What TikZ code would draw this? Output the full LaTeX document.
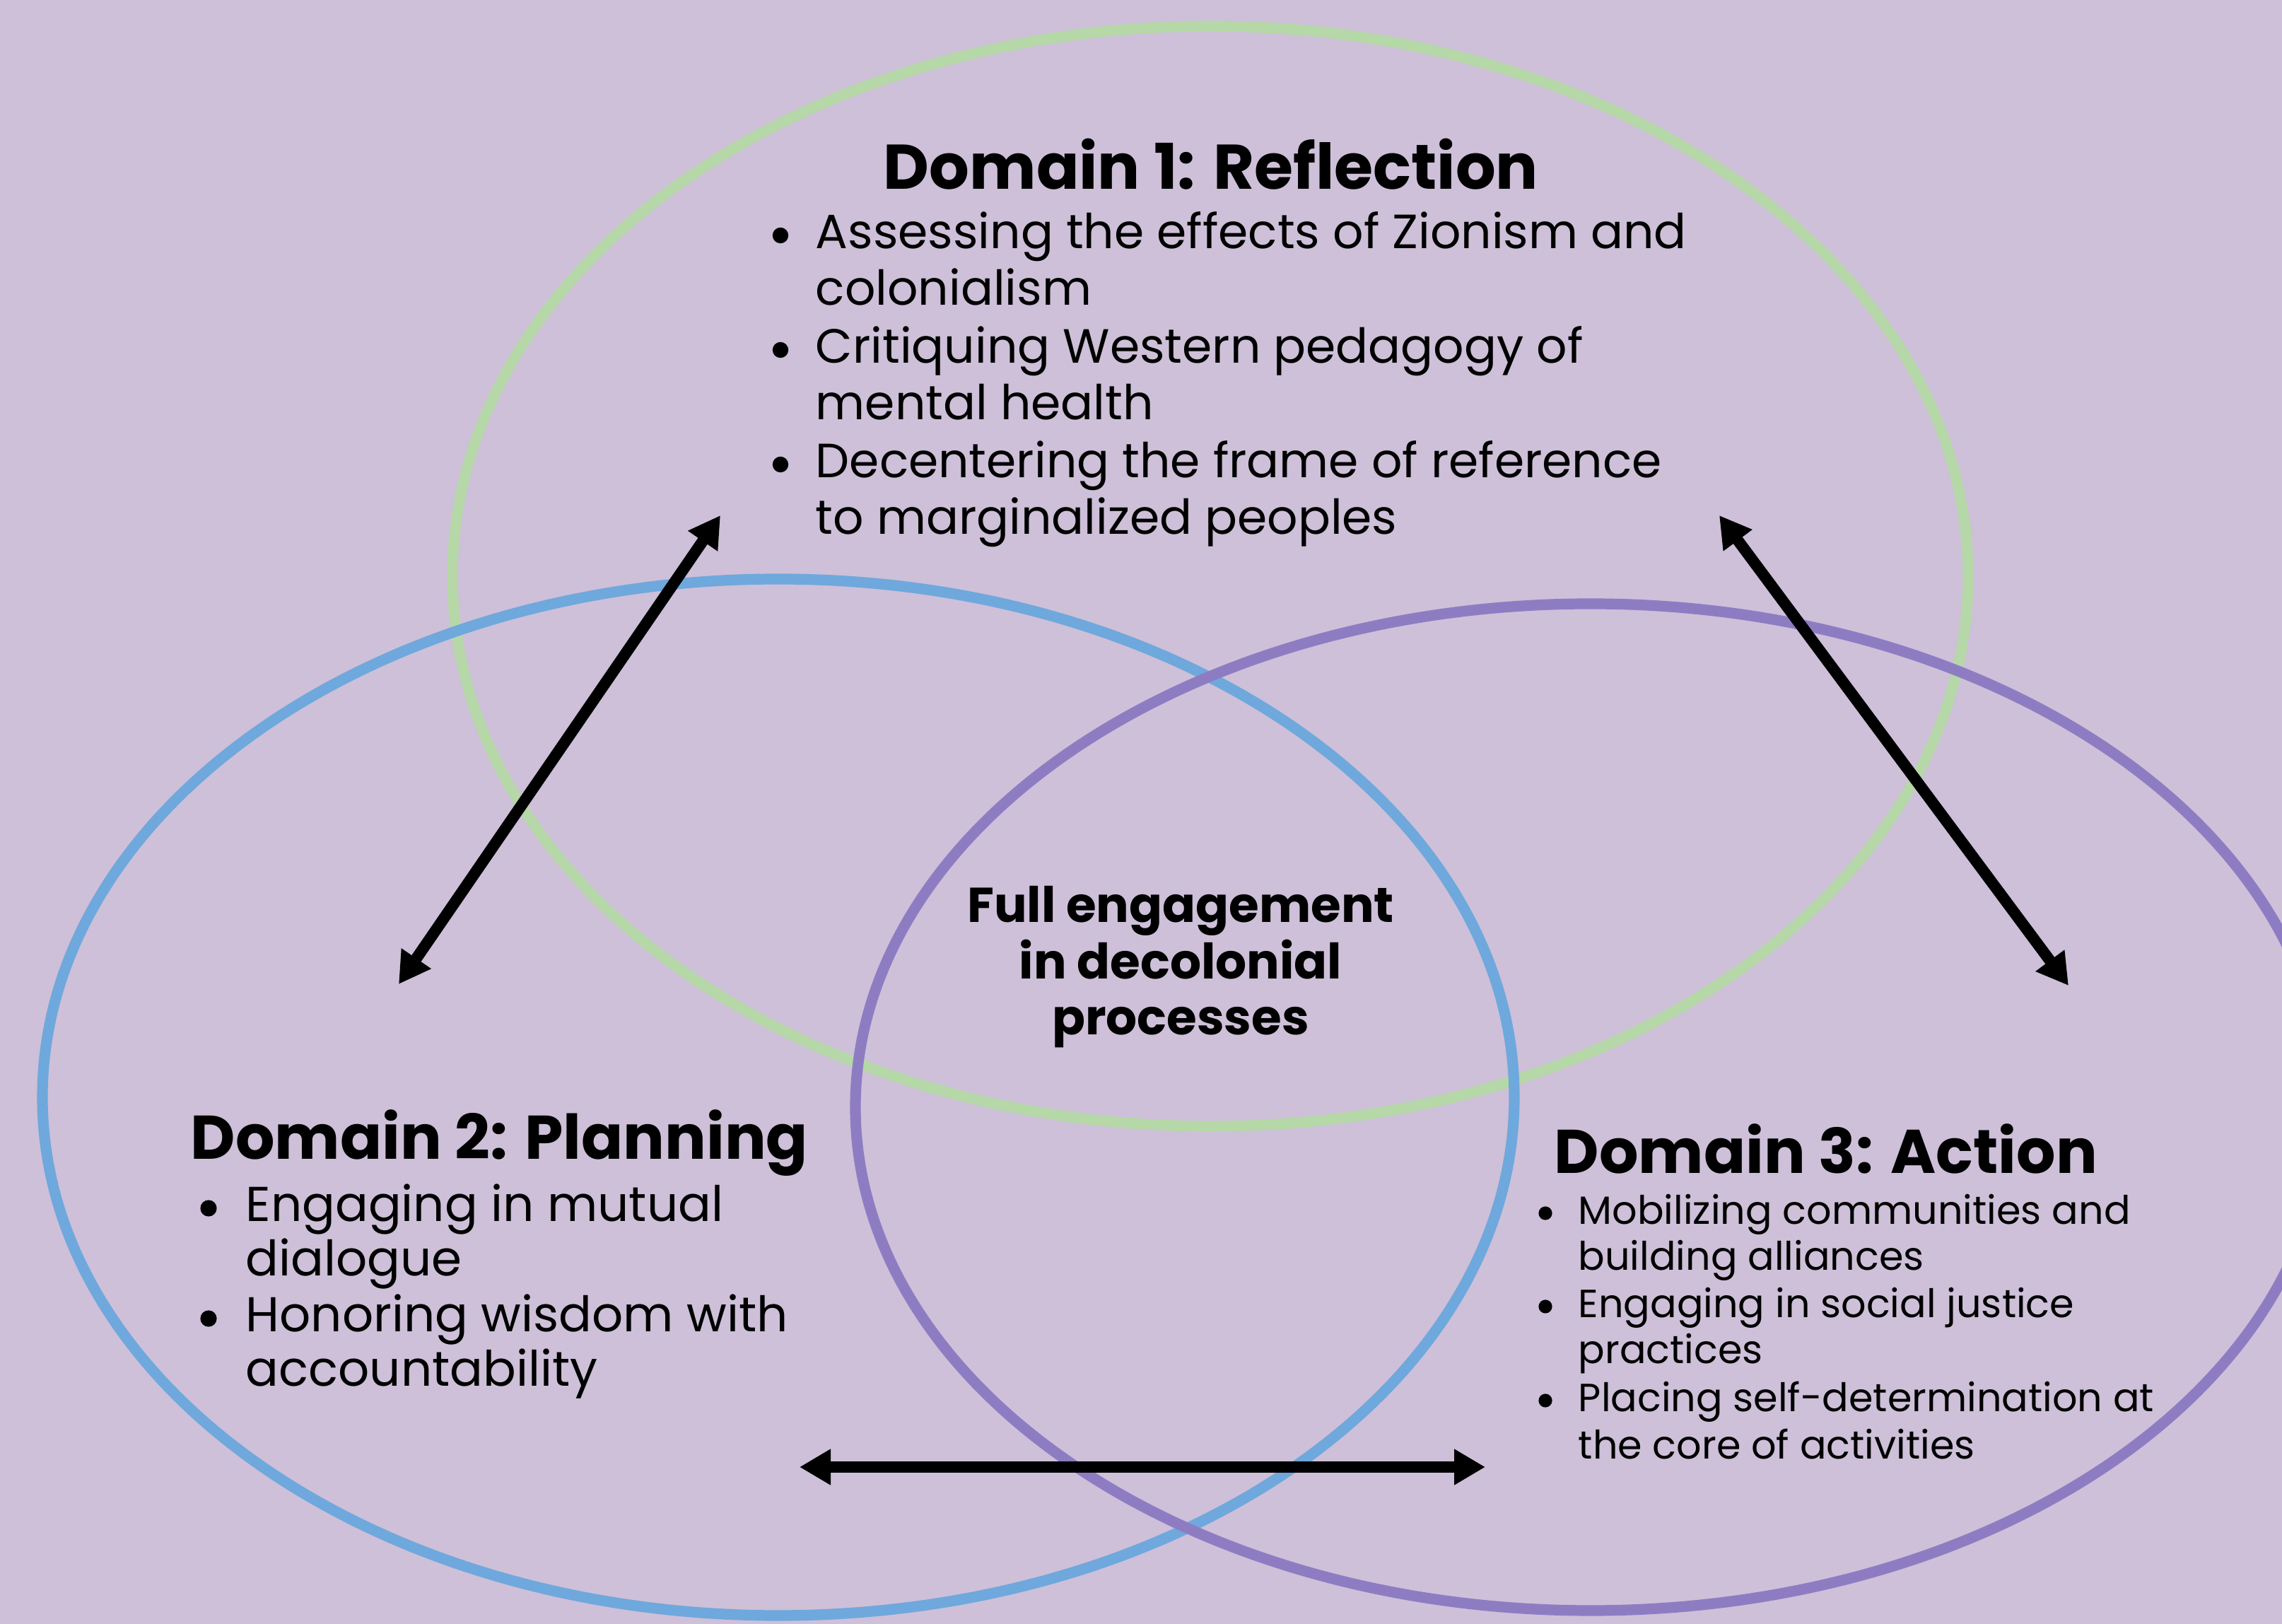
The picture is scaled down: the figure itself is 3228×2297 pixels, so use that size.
\documentclass[tikz,border=0pt]{standalone}
\usepackage{fontspec}
\setmainfont{Poppins}
\usetikzlibrary{arrows.meta}
\definecolor{bgc}{RGB}{205,192,216}
\definecolor{grc}{HTML}{B6D7A8}
\definecolor{blc}{HTML}{6FA8DC}
\definecolor{puc}{HTML}{8E7CC3}
\begin{document}
\begin{tikzpicture}[x=0.25pt,y=-0.25pt,
  ring/.style={line width=3.8pt},
  dbl/.style={line width=4pt,{Triangle[length=11pt,width=12pt]}-{Triangle[length=11pt,width=12pt]}},
  ttl/.style={inner sep=0,font=\bfseries\fontsize{21.8}{26}\selectfont},
  bodyA/.style={anchor=base west,inner sep=0,font=\fontsize{17}{20}\selectfont},
  bodyB/.style={anchor=base west,inner sep=0,font=\fontsize{17.3}{20}\selectfont},
  bodyC/.style={anchor=base west,inner sep=0,font=\fontsize{13.9}{16}\selectfont},
  dotA/.style={circle,fill=black,inner sep=0,minimum size=5.6pt},
  dotB/.style={circle,fill=black,inner sep=0,minimum size=5.8pt},
  dotC/.style={circle,fill=black,inner sep=0,minimum size=4.8pt},
  ctr/.style={anchor=base,inner sep=0,font=\bfseries\fontsize{17.3}{20}\selectfont}]
\fill[bgc] (0,0) rectangle (3228,2297);
\useasboundingbox (0,0) rectangle (3228,2297);
% rings
\draw[ring,grc] (1712,815) ellipse [x radius=268pt, y radius=194.5pt];
\draw[ring,blc] (1101,1552) ellipse [x radius=260.25pt, y radius=183.25pt];
\draw[ring,puc] (2250,1566) ellipse [x radius=260pt, y radius=178pt];
% Domain 1
\node[ttl,anchor=base,font=\bfseries\fontsize{22.3}{26}\selectfont] (d1t) at (1713,268) {Domain 1: Reflection};
\node[dotA] (d1ba) at (1104,333) {};
\node[bodyA] (d1a1) at (1153,352) {Assessing the effects of Zionism and};
\node[bodyA] (d1a2) at (1153,432) {colonialism};
\node[dotA] (d1bb) at (1104,495) {};
\node[bodyA] (d1b1) at (1153,514) {Critiquing Western pedagogy of};
\node[bodyA] (d1b2) at (1153,594) {mental health};
\node[dotA] (d1bc) at (1104,657) {};
\node[bodyA] (d1c1) at (1153,676) {Decentering the frame of reference};
\node[bodyA] (d1c2) at (1153,756) {to marginalized peoples};
% Domain 2
\node[ttl,anchor=base west] (d2t) at (269,1640) {Domain 2: Planning};
\node[dotB] (d2ba) at (295,1709) {};
\node[bodyB] (d2a1) at (347,1728) {Engaging in mutual};
\node[bodyB] (d2a2) at (347,1805) {dialogue};
\node[dotB] (d2bb) at (295,1865) {};
\node[bodyB] (d2b1) at (347,1884) {Honoring wisdom with};
\node[bodyB] (d2b2) at (347,1961) {accountability};
% Domain 3
\node[ttl,anchor=base west] (d3t) at (2198,1660) {Domain 3: Action};
\node[dotC] (d3ba) at (2186,1716) {};
\node[bodyC] (d3a1) at (2232,1732) {Mobilizing communities and};
\node[bodyC] (d3a2) at (2232,1797) {building alliances};
\node[dotC] (d3bb) at (2186,1848) {};
\node[bodyC] (d3b1) at (2232,1864) {Engaging in social justice};
\node[bodyC] (d3b2) at (2232,1929) {practices};
\node[dotC] (d3bc) at (2186,1981) {};
\node[bodyC] (d3c1) at (2232,1997) {Placing self-determination at};
\node[bodyC] (d3c2) at (2232,2064) {the core of activities};
% centre
\node[ctr] (c1) at (1670,1305) {Full engagement};
\node[ctr] (c2) at (1670,1385) {in decolonial};
\node[ctr] (c3) at (1670,1464) {processes};
% arrows
\coordinate (a1s) at (564,1392);
\coordinate (a1e) at (1019,729);
\coordinate (a2s) at (2432,729);
\coordinate (a2e) at (2926,1394);
\coordinate (a3s) at (1131,2075);
\coordinate (a3e) at (2101,2075);
\draw[dbl] (a1s) -- (a1e);
\draw[dbl] (a2s) -- (a2e);
\draw[dbl] (a3s) -- (a3e);
\end{tikzpicture}
\end{document}
